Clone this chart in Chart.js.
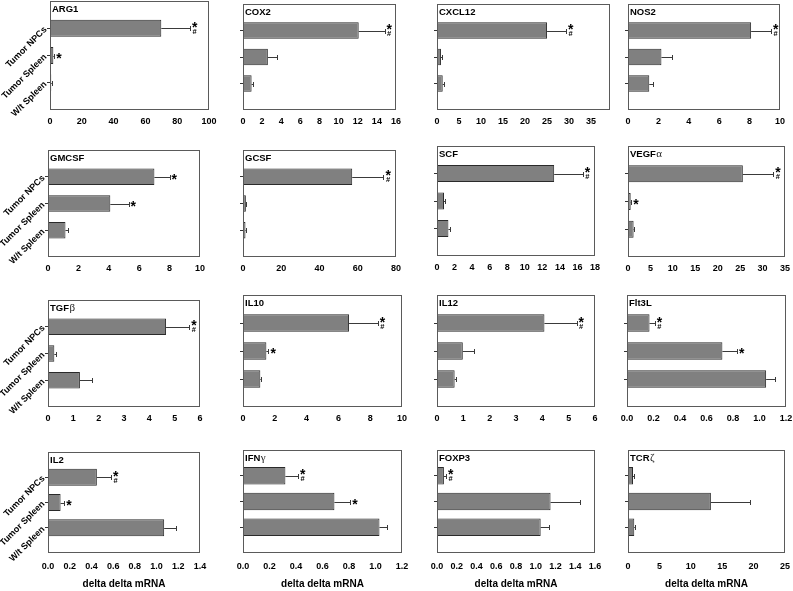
<!DOCTYPE html>
<html><head><meta charset="utf-8">
<script src="https://cdn.jsdelivr.net/npm/chart.js@4.4.0/dist/chart.umd.min.js"></script>
<style>
html,body{margin:0;padding:0;background:#fff;}
body{width:793px;height:591px;overflow:hidden;position:relative;}
</style></head><body>
<script>
// ---------- DATA ----------
const genes = ['ARG1','COX2','CXCL12','NOS2','GMCSF','GCSF','SCF','VEGFα','TGFβ','IL10','IL12','Flt3L','IL2','IFNγ','FOXP3','TCRζ'];
const groups = ['Tumor NPCs','Tumor Spleen','W/t Spleen'];
const tumorNPCs   = [70, 12.1, 25.0, 8.1, 7.0, 57.1, 13.35, 25.6, 4.66, 6.67, 4.08, 0.17, 0.45, 0.32, 0.07, 0.8];
const tumorSpleen = [2.1, 2.6, 0.9, 2.2, 4.1, 1.5, 0.8, 0.6, 0.25, 1.47, 0.98, 0.72, 0.116, 0.69, 1.15, 13.2];
const wtSpleen    = [0.8, 0.9, 1.3, 1.4, 1.15, 1.3, 1.3, 1.25, 1.26, 1.09, 0.67, 1.05, 1.07, 1.03, 1.05, 1.0];
const errNPCs     = [18, 2.7, 4.3, 1.3, 1.0, 16.3, 3.25, 6.8, 0.92, 1.8, 1.22, 0.04, 0.13, 0.096, 0.02, 0.1];
const errSpleen   = [0.5, 1.0, 0.2, 0.7, 1.2, 0.3, 0.15, 0.1, 0.05, 0.13, 0.44, 0.11, 0.034, 0.12, 0.30, 6.2];
const errWt       = [0.2, 0.1, 0.2, 0.25, 0.15, 0.3, 0.2, 0.1, 0.49, 0.06, 0.06, 0.07, 0.11, 0.06, 0.08, 0.05];
const marksNPCs   = ['*#','*#','*#','*#','*','*#','*#','*#','*#','*#','*#','*#','*#','*#','*#',''];
const marksSpleen = ['*','','','','*','','','*','','*','','*','*','*','',''];
const marksWt     = ['','','','','','','','','','','','','','','',''];
const axisMax  = [100,16,39.3,10,10,80,18,35,6,10,6,1.2,1.4,1.2,1.6,25];
const axisStep = [20,2,5,2,2,20,2,5,1,2,1,0.2,0.2,0.2,0.2,5];
const axisTitle = 'delta delta mRNA';

// ---------- LAYOUT (plot boxes: left, top, right, bottom) ----------
const boxes = [
  [50,1,209,110],[243,4,396,110],[437,4,610,110],[628,4,780,110],
  [48,150,200,257],[243,150,396,257],[437,146,595,256],[628,146,785,257],
  [48,300,200,407],[243,295,402,407],[437,295,595,407],[627,295,786,407],
  [48,452,200,553],[243,450,402,553],[437,450,595,553],[628,450,785,553]
];
const SANS = '"Liberation Sans", Arial, Helvetica, sans-serif';
Chart.defaults.font.family = SANS;

function drawGlyph(ctx, ch, font, cx, cy) {
  ctx.font = font;
  ctx.textAlign = 'left';
  ctx.textBaseline = 'alphabetic';
  const m = ctx.measureText(ch);
  const x = cx - (m.actualBoundingBoxRight - m.actualBoundingBoxLeft) / 2;
  const y = cy + (m.actualBoundingBoxAscent - m.actualBoundingBoxDescent) / 2;
  ctx.fillText(ch, x, y);
}

const panelPlugin = {
  id: 'panel',
  afterDraw(chart) {
    const o = chart.options.plugins.panel;
    const {ctx, chartArea: a} = chart;
    const xs = chart.scales.x, ys = chart.scales.y;
    ctx.save();
    o.values.forEach((v, k) => {
      const yc = ys.getPixelForValue(k + 1);
      const x0 = xs.getPixelForValue(v);
      const x1 = xs.getPixelForValue(v + o.errors[k]);
      const yl = Math.round(yc) + 0.5;
      const xc = Math.round(x1) + 0.5;
      ctx.strokeStyle = '#3a3a3a'; ctx.lineWidth = 1;
      ctx.beginPath();
      ctx.moveTo(x0, yl); ctx.lineTo(xc, yl);
      ctx.moveTo(xc, yl - 2.5); ctx.lineTo(xc, yl + 2.5);
      ctx.stroke();
      const m = o.marks[k];
      ctx.fillStyle = '#000';
      const xm = x1 + 5;
      if (m === '*#') {
        drawGlyph(ctx, '*', 'bold 14px ' + SANS, xm, yc - 3.5);
        drawGlyph(ctx, '#', 'bold 7.5px ' + SANS, xm, yc + 3.2);
      } else if (m === '*') {
        drawGlyph(ctx, '*', 'bold 14px ' + SANS, xm, yc);
      }
    });
    const L = Math.round(a.left), T = Math.round(a.top), R = Math.round(a.right), B = Math.round(a.bottom);
    ctx.strokeStyle = '#5a5a5a'; ctx.lineWidth = 1;
    ctx.strokeRect(L + 0.5, T + 0.5, R - L - 1, B - T - 1);
    const t = o.title;
    const mm = t.match(/^(.*?)([\u03b1-\u03c9])$/);
    ctx.fillStyle = '#000'; ctx.textAlign = 'left'; ctx.textBaseline = 'middle';
    ctx.font = 'bold 9.5px ' + SANS;
    const tx = L + 2, ty = T + 8;
    if (mm) {
      ctx.fillText(mm[1], tx, ty);
      const w = ctx.measureText(mm[1]).width;
      ctx.font = '11px "Liberation Serif", "DejaVu Serif", serif';
      ctx.fillStyle = '#222';
      ctx.fillText(mm[2], tx + w + 0.5, ty);
    } else {
      ctx.fillText(t, tx, ty);
    }
    ctx.restore();
  }
};

const paddedLabels = ['', ...groups, ''];

genes.forEach((g, i) => {
  const [L, T, R, B] = boxes[i];
  const col = i % 4, row = Math.floor(i / 4);
  const yW = col === 0 ? L : 10;
  const cLeft = L - yW;
  const padTop = 2;
  const cTop = T - padTop;
  const padRight = 12;
  const xH = row === 3 ? 37 : 22;
  const w = R - cLeft + padRight;
  const h = B - cTop + xH;
  const canvas = document.createElement('canvas');
  canvas.width = w; canvas.height = h;
  canvas.style.cssText = `position:absolute;left:${cLeft}px;top:${cTop}px;width:${w}px;height:${h}px;`;
  document.body.appendChild(canvas);

  const vals = [tumorNPCs[i], tumorSpleen[i], wtSpleen[i]];
  const errs = [errNPCs[i], errSpleen[i], errWt[i]];
  const marks = [marksNPCs[i], marksSpleen[i], marksWt[i]];
  const step = axisStep[i];

  new Chart(canvas, {
    type: 'bar',
    data: {
      labels: paddedLabels,
      datasets: [{
        data: [null, ...vals, null],
        backgroundColor: '#808080',
        borderColor: '#2a2a2a',
        borderWidth: 1,
        borderSkipped: false,
        barPercentage: row === 3 ? 0.68 : 0.62,
        categoryPercentage: 1
      }]
    },
    options: {
      indexAxis: 'y',
      responsive: false,
      maintainAspectRatio: false,
      animation: false,
      devicePixelRatio: 1,
      layout: { padding: { top: padTop, right: padRight, left: 0, bottom: 0 } },
      plugins: {
        legend: { display: false },
        tooltip: { enabled: false },
        panel: { values: vals, errors: errs, marks: marks, title: g }
      },
      scales: {
        x: {
          type: 'linear', min: 0, max: axisMax[i],
          border: { display: false },
          grid: { display: false, drawTicks: false, tickLength: 0 },
          ticks: {
            stepSize: step, includeBounds: false, padding: row === 3 ? 8 : 6,
            color: '#000', font: { family: SANS, size: 9, weight: 'bold' },
            maxRotation: 0, autoSkip: false,
            callback: v => step < 1 ? Number(v).toFixed(1) : String(Math.round(v))
          },
          title: {
            display: row === 3, text: axisTitle, color: '#000',
            font: { family: SANS, size: 10, weight: 'bold' },
            padding: { top: 0, bottom: 0 }
          },
          afterFit: s => { s.height = xH; s.paddingLeft = 0; s.paddingRight = 0; }
        },
        y: {
          type: 'category', offset: false,
          border: { display: false },
          grid: {
            offset: false, drawOnChartArea: false, drawTicks: true, tickLength: 3,
            color: c => (c.index === 0 || c.index === 4) ? 'rgba(0,0,0,0)' : '#333'
          },
          ticks: {
            autoSkip: false, minRotation: 45, maxRotation: 45, padding: 1.5,
            color: '#000', font: { family: SANS, size: 9, weight: 'bold' },
            callback: (v, idx) => col === 0 ? paddedLabels[idx] : ''
          },
          afterFit: s => { s.width = yW; s.paddingTop = 0; s.paddingBottom = 0; }
        }
      }
    },
    plugins: [panelPlugin]
  });
});
</script>
</body></html>
